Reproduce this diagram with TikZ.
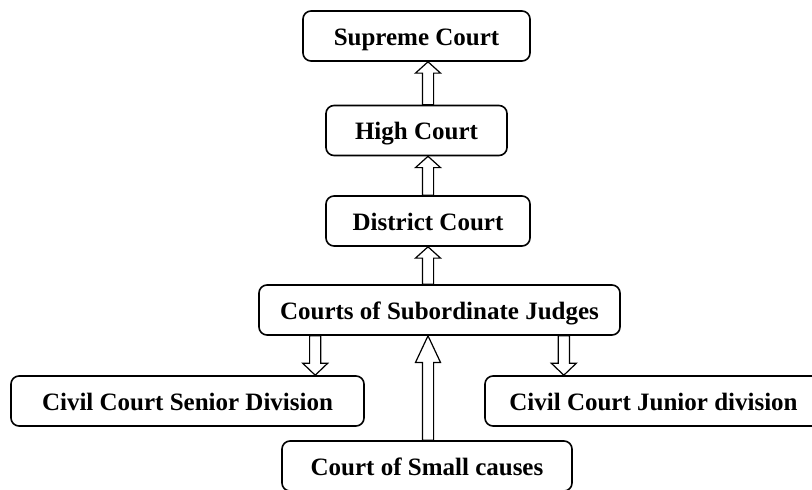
\documentclass[tikz,border=0pt]{standalone}
\usepackage{fontspec}
\setmainfont{Liberation Serif}
\usetikzlibrary{calc}
\tikzset{court/.style={draw, line width=1.2pt, rounded corners=6pt, minimum height=37.5pt, inner sep=0pt, text height=13.5pt, text depth=0pt, font=\fontsize{18.75}{22}\selectfont\bfseries},
	fatline/.style={draw, fill=white, line width=0.9pt, line join=miter}}
\def\fatarrow[#1](#2)(#3){\draw[fatline] let \p1=(#2), \p2=(#3), \n1={sign(\y2-\y1)} in (\x1-4.2pt,\y1) -- (\x1-4.2pt,\y2-\n1*#1) -- (\x1-9.4pt,\y2-\n1*#1) -- (\x1,\y2) -- (\x1+9.4pt,\y2-\n1*#1) -- (\x1+4.2pt,\y2-\n1*#1) -- (\x1+4.2pt,\y1) -- cycle;}

\begin{document}
\begin{tikzpicture}[x=0.75pt, y=-0.75pt]
		%%%%% START %%%%%
		\useasboundingbox (0, 0) rectangle (812, 489);
		
		\node[court, minimum width=170.25pt] (supreme) at (416.5, 36) {Supreme Court};
		\node[court, minimum width=135.75pt] (high) at (416.5, 130.5) {High Court};
		\node[court, minimum width=153pt] (district) at (428, 221) {District Court};
		\node[court, minimum width=270.75pt] (subjudges) at (439.5, 310) {Courts of Subordinate Judges};
		
		\node[court, minimum width=264.75pt] (senior) at (187.5, 401) {Civil Court Senior Division};
		\node[court, minimum width=252.75pt] (junior) at (653.5, 401) {Civil Court Junior division};
		\node[court, minimum width=217.5pt] (small) at (427, 466) {Court of Small causes};
		
		\coordinate (mid) at (428, 0);
		\coordinate (left) at ($(subjudges.south west)+(57, 0)$);
		\coordinate (right) at ($(subjudges.south east)+(-57, 0)$);
		
		\fatarrow[8.5pt](high.north -| mid)(supreme.south -| mid);
		\fatarrow[8.5pt](district.north -| mid)(high.south -| mid);
		\fatarrow[8.5pt](subjudges.north -| mid)(district.south -| mid);
		
		\fatarrow[9pt](left)(senior.north -| left);
		\fatarrow[9pt](right)(junior.north -| right);
		\fatarrow[20pt](small.north -| mid)(subjudges.south -| mid);
		
		%%%%% END %%%%%
	\end{tikzpicture}
\end{document}
